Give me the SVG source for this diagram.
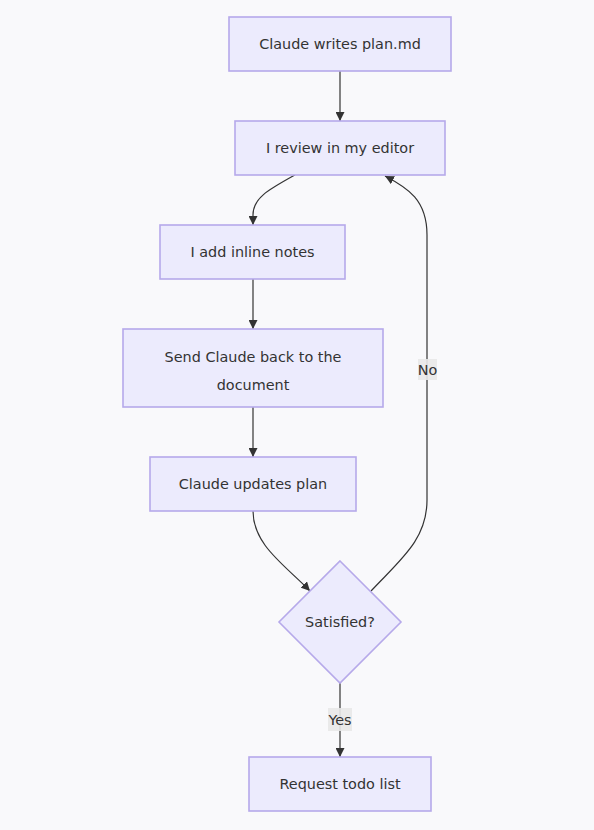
<svg xmlns="http://www.w3.org/2000/svg" width="594" height="830" viewBox="0 0 594 830">
<style>
.bg{fill:#f9f9fb}
.node{fill:#ecebfd;stroke:#b6a9ea;stroke-width:1.6}
.t{font-family:"DejaVu Sans",Verdana,sans-serif;font-size:14.4px;fill:#333;text-anchor:middle}
.e{fill:none;stroke:#333;stroke-width:1.2}
.lb{fill:#e8e8e8;opacity:0.9}
</style>
<defs>
<marker id="ah" viewBox="0 0 10 10" refX="10" refY="5" markerWidth="9" markerHeight="9" markerUnits="userSpaceOnUse" orient="auto">
<path d="M0,0 L10,5 L0,10 z" fill="#333"/>
</marker>
</defs>
<rect class="bg" x="0" y="0" width="594" height="830"/>
<g id="edges">
<path class="e" d="M340,71 L340,121" marker-end="url(#ah)"/>
<path class="e" d="M295,175 C268,190 253,198 253,215 L253,225" marker-end="url(#ah)"/>
<path class="e" d="M253,279 L253,329" marker-end="url(#ah)"/>
<path class="e" d="M253,407 L253,457" marker-end="url(#ah)"/>
<path class="e" d="M253,511 C253,545 285,565 310,591" marker-end="url(#ah)"/>
<path class="e" d="M371,591 C400,560 427,540 427,500 L427,235 C427,200 408,188 385,176" marker-end="url(#ah)"/>
<path class="e" d="M340,683 L340,757" marker-end="url(#ah)"/>
</g>
<g id="edge-labels">
<rect class="lb" x="418" y="359" width="19" height="21"/>
<text class="t" x="427.5" y="374.5">No</text>
<rect class="lb" x="328" y="708" width="24" height="23"/>
<text class="t" x="340" y="724.5">Yes</text>
</g>
<g id="n1"><rect class="node" x="229" y="17" width="222" height="54"/><text class="t" x="340" y="49">Claude writes plan.md</text></g>
<g id="n2"><rect class="node" x="235" y="121" width="210" height="54"/><text class="t" x="340" y="153">I review in my editor</text></g>
<g id="n3"><rect class="node" x="160" y="225" width="185" height="54"/><text class="t" x="252.5" y="257">I add inline notes</text></g>
<g id="n4"><rect class="node" x="123" y="329" width="260" height="78"/><text class="t" x="253" y="362">Send Claude back to the</text><text class="t" x="253" y="390">document</text></g>
<g id="n5"><rect class="node" x="150" y="457" width="206" height="54"/><text class="t" x="253" y="489">Claude updates plan</text></g>
<g id="n6"><polygon class="node" points="340,561 401,622 340,683 279,622"/><text class="t" x="340" y="627">Satisfied?</text></g>
<g id="n7"><rect class="node" x="249" y="757" width="182" height="54"/><text class="t" x="340" y="789">Request todo list</text></g>
</svg>
